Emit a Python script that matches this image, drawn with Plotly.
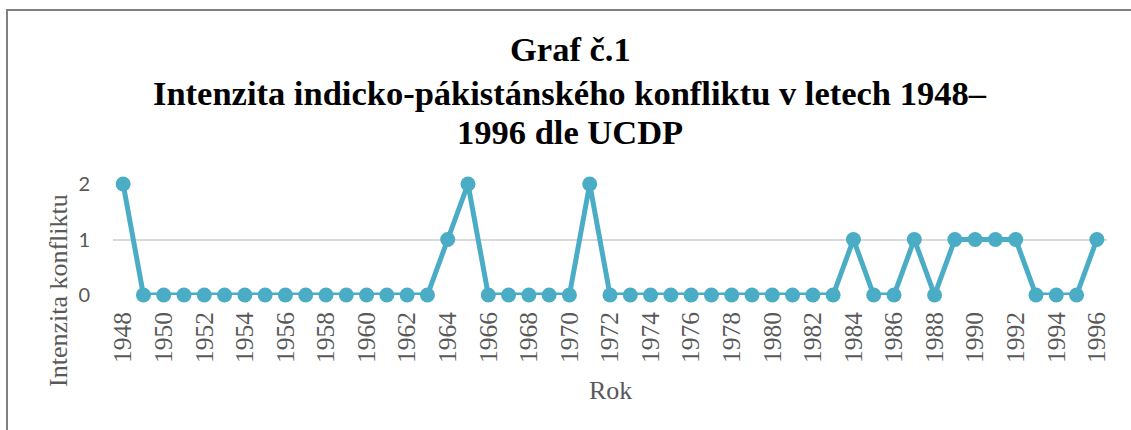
import plotly.graph_objects as go

years = list(range(1948, 1997))
intensity = [2, 0, 0, 0, 0, 0, 0, 0, 0, 0,
             0, 0, 0, 0, 0, 0, 1, 2, 0, 0,
             0, 0, 0, 2, 0, 0, 0, 0, 0, 0,
             0, 0, 0, 0, 0, 0, 1, 0, 0, 1,
             0, 1, 1, 1, 1, 0, 0, 0, 1]
y_ticks = [0, 1, 2]
title_lines = ["Graf č.1",
               "Intenzita indicko-pákistánského konfliktu v letech 1948–",
               "1996 dle UCDP"]

W, H = 1131, 430
L, R, T, B = 113, 24, 184, 135
pw, ph = W - L - R, H - T - B

def px_x(p):
    return (p - L) / pw

def px_y(p):
    return (H - B - p) / ph

fig = go.Figure()
fig.add_trace(go.Scatter(
    x=years, y=intensity, mode="lines+markers",
    line=dict(color="#4BACC6", width=5),
    marker=dict(color="#4BACC6", size=15),
    cliponaxis=False, showlegend=False,
))

fig.update_layout(
    width=W, height=H,
    margin=dict(l=L, r=R, t=T, b=B),
    paper_bgcolor="white", plot_bgcolor="white",
    xaxis=dict(range=[1947.5, 1996.5], tickmode="linear", tick0=1948, dtick=2,
               tickangle=-90, showgrid=False, zeroline=False, showline=False,
               ticks="", ticklabelstandoff=11, automargin=False,
               tickfont=dict(family="Liberation Serif", size=25.5, color="#595959")),
    yaxis=dict(range=[0, 2], tickvals=y_ticks, showgrid=True, gridcolor="#D9D9D9",
               gridwidth=1.5, zeroline=False, showline=False, ticks="",
               ticklabelstandoff=22, automargin=False,
               tickfont=dict(family="Lato", size=20, color="#595959")),
)

for line, cy in zip(title_lines, [49, 93, 132]):
    fig.add_annotation(
        text="<b>" + line + "</b>",
        xref="paper", yref="paper", x=px_x(570), y=px_y(cy),
        xanchor="center", yanchor="middle", showarrow=False,
        font=dict(family="Liberation Serif", size=34.5, color="black"),
    )
fig.add_annotation(
    text="Intenzita konfliktu", textangle=-90,
    xref="paper", yref="paper", x=px_x(58), y=px_y(291),
    xanchor="center", yanchor="middle", showarrow=False,
    font=dict(family="Liberation Serif", size=26, color="#595959"),
)
fig.add_annotation(
    text="Rok",
    xref="paper", yref="paper", x=px_x(610), y=px_y(390),
    xanchor="center", yanchor="middle", showarrow=False,
    font=dict(family="Liberation Serif", size=26, color="#595959"),
)
fig.add_shape(
    type="rect", xref="paper", yref="paper",
    x0=px_x(7), x1=px_x(W + 20), y0=px_y(H + 20), y1=px_y(10),
    line=dict(color="#808080", width=2), fillcolor="rgba(0,0,0,0)", layer="above",
)

fig.write_html("out.html", config={"displayModeBar": False},
               post_script="document.body.style.margin='0';document.body.style.overflow='hidden';")
